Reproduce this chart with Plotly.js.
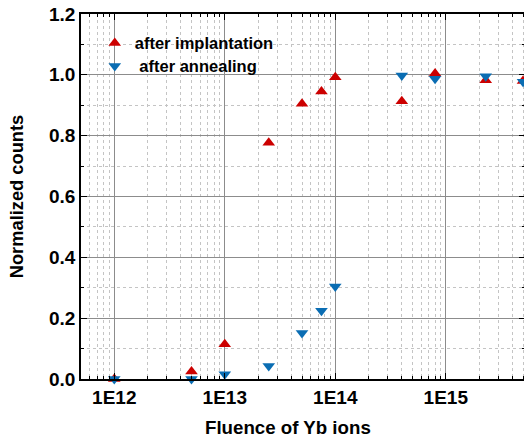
<!DOCTYPE html>
<html>
<head>
<meta charset="utf-8">
<script src="https://cdn.plot.ly/plotly-3.0.1.min.js"></script>
<style>
html,body{margin:0;padding:0;overflow:hidden;background:#fff;}
#chart{width:526px;height:439px;}
</style>
</head>
<body>
<div id="chart"></div>
<script>
// Data
const fluence = [1e12, 5e12, 1e13, 2.5e13, 5e13, 7.5e13, 1e14, 4e14, 8e14, 2.3e15, 5e15];
const afterImplantation = [0.0, 0.025, 0.114, 0.777, 0.905, 0.945, 0.992, 0.913, 1.004, 0.982, 0.980];
const afterAnnealing = [0.0, 0.0, 0.016, 0.043, 0.151, 0.224, 0.304, 0.998, 0.987, 0.995, 0.977];
const xTickVals = [1e12, 1e13, 1e14, 1e15];
const xTickText = ['1E12', '1E13', '1E14', '1E15'];
const seriesNames = ['after implantation', '\u00a0after annealing'];

const FONT = 'Liberation Sans, Arial, Helvetica, sans-serif';
const legendFont = {family: FONT, size: 16.5, color: '#000', weight: 'bold'};

const traces = [
  {
    x: fluence, y: afterImplantation, name: seriesNames[0], legend: 'legend',
    type: 'scatter', mode: 'markers', cliponaxis: false,
    marker: {symbol: 'triangle-up', size: 11, color: '#cc0000'}
  },
  {
    x: fluence, y: afterAnnealing, name: seriesNames[1], legend: 'legend2',
    type: 'scatter', mode: 'markers', cliponaxis: false,
    marker: {symbol: 'triangle-down', size: 11, color: '#0a6db3'}
  }
];

const layout = {
  width: 526, height: 439,
  margin: {l: 81, r: 1, t: 14, b: 60},
  paper_bgcolor: '#ffffff', plot_bgcolor: '#ffffff',
  font: {family: FONT, size: 18, color: '#000', weight: 'bold'},
  showlegend: true,
  legend: {
    x: 0.031, y: 0.968, xanchor: 'left', yanchor: 'top',
    bgcolor: 'rgba(255,255,255,0)', borderwidth: 0, font: legendFont
  },
  legend2: {
    x: 0.031, y: 0.905, xanchor: 'left', yanchor: 'top',
    bgcolor: 'rgba(255,255,255,0)', borderwidth: 0, font: legendFont
  },
  xaxis: {
    type: 'log',
    range: [11.699, 15.717],
    tickmode: 'array', tickvals: xTickVals, ticktext: xTickText,
    ticks: 'inside', ticklen: 6, tickwidth: 1.2, tickcolor: '#000',
    showline: true, linecolor: '#000', linewidth: 1.8, mirror: 'ticks',
    showgrid: true, gridcolor: '#8c8c8c', gridwidth: 1,
    zeroline: false,
    tickfont: {family: FONT, size: 19, color: '#000', weight: 'bold'},
    minor: {dtick: 'D1', ticks: 'inside', ticklen: 3, tickcolor: '#000', tickwidth: 1,
            showgrid: true, gridcolor: '#c4c4c4', griddash: 'dot', gridwidth: 1},
    title: {text: ''}
  },
  yaxis: {
    range: [0, 1.2],
    tickmode: 'linear', tick0: 0, dtick: 0.2, tickformat: '.1f',
    ticks: 'inside', ticklen: 6, tickwidth: 1.2, tickcolor: '#000',
    showline: true, linecolor: '#000', linewidth: 1.8, mirror: 'ticks',
    showgrid: true, gridcolor: '#8c8c8c', gridwidth: 1,
    zeroline: false,
    tickfont: {family: FONT, size: 19, color: '#000', weight: 'bold'},
    minor: {dtick: 0.1, ticks: 'inside', ticklen: 3, tickcolor: '#000', tickwidth: 1,
            showgrid: true, gridcolor: '#c4c4c4', griddash: 'dot', gridwidth: 1},
    title: {text: 'Normalized counts', standoff: 20,
            font: {family: FONT, size: 18.3, color: '#000', weight: 'bold'}}
  },
  shapes: [
    {type: 'rect', xref: 'paper', yref: 'paper', layer: 'between',
     x0: 0, x1: 0.444, y0: 0.773, y1: 1,
     fillcolor: '#ffffff', line: {width: 0}}
  ],
  annotations: [
    {text: 'Fluence of Yb ions', xref: 'paper', yref: 'paper',
     x: 0.466, y: -0.132, xanchor: 'center', yanchor: 'middle', showarrow: false,
     font: {family: FONT, size: 18.7, color: '#000', weight: 'bold'}}
  ]
};

Plotly.newPlot('chart', traces, layout, {displayModeBar: false, staticPlot: true});
</script>
</body>
</html>
